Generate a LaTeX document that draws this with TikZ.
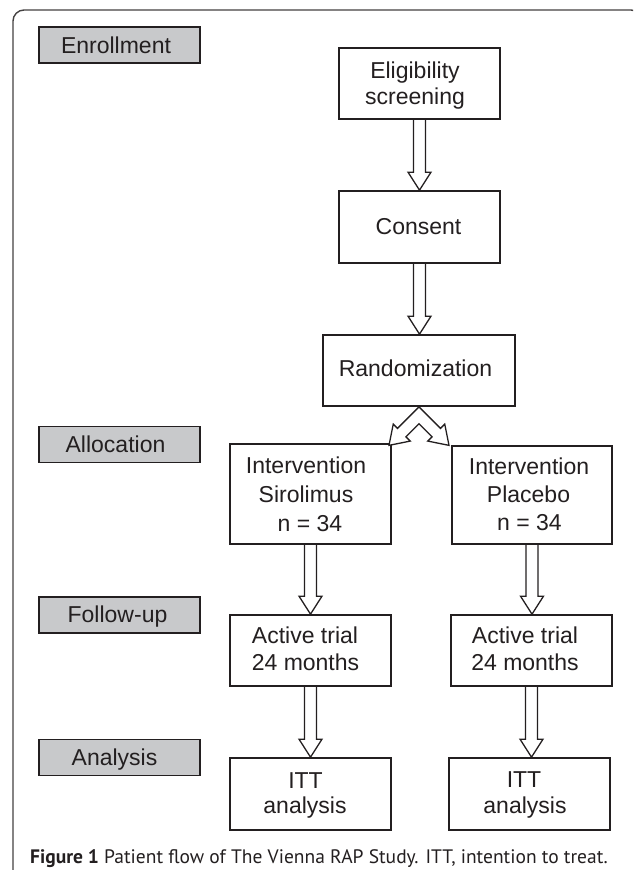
\documentclass[tikz,border=0pt]{standalone}
\usepackage{fontspec}
\setmainfont{Liberation Sans}
\newfontfamily\capfont{PT Sans}
\usetikzlibrary{calc}
\definecolor{ink}{RGB}{35,31,32}
\definecolor{lblgray}{RGB}{200,201,203}
\tikzset{
  box/.style={draw=ink, line width=1.7pt, fill=white, inner sep=0pt, rectangle},
  lbl/.style={draw=ink, line width=1.7pt, fill=lblgray, minimum width=161pt, minimum height=36pt, inner sep=0pt},
  txt/.style={text=ink, font=\fontsize{23}{26.5}\selectfont, inner sep=0pt, anchor=base},
  harrowline/.style={draw=ink, line width=1.3pt, line join=miter},
  frameline/.style={draw=ink!85, line width=1.4pt, rounded corners=11pt},
}
\newcommand{\harrow}[2]{%
  \draw[harrowline] let \p1=(#1.south), \p2=(#2.north) in
    (\x1-6pt,\y1) -- (\x1-6pt,\y2+18pt) -- (\x1-11.5pt,\y2+18pt) -- (\x1,\y2)
    -- (\x1+11.5pt,\y2+18pt) -- (\x1+6pt,\y2+18pt) -- (\x1+6pt,\y1);}
\begin{document}
\begin{tikzpicture}[x=1pt,y=-1pt]
\useasboundingbox (0,0) rectangle (633,870);
\begin{scope}
\clip (0,0) rectangle (633,870);
\draw[frameline] (13,880) -- (13,10) -- (642,10) -- (642,880);
\end{scope}

% phase labels
\node[lbl] (enr) at (119.5,45) {};
\node[txt] (enrt) at (116,53) {Enrollment};
\node[lbl] (alloc) at (119.5,444.5) {};
\node[txt] (alloct) at (115.5,452) {Allocation};
\node[lbl] (fol) at (119.5,615) {};
\node[txt] (folt) at (117.5,622) {Follow-up};
\node[lbl] (ana) at (119.5,757.5) {};
\node[txt] (anat) at (114.5,765) {Analysis};

% boxes
\node[box, minimum width=161pt, minimum height=71pt] (elig) at (419.5,83.5) {};
\node[txt] (elig1) at (415,78) {Eligibility};
\node[txt] (elig2) at (415,104) {screening};

\node[box, minimum width=161pt, minimum height=72pt] (cons) at (419.5,227) {};
\node[txt] (const) at (418.5,234) {Consent};

\node[box, minimum width=192pt, minimum height=71pt] (rand) at (419,370.5) {};
\node[txt] (randt) at (415.5,376.5) {Randomization};

\node[box, minimum width=161pt, minimum height=100pt] (siro) at (310.5,494) {};
\node[txt] (siro1) at (306,473) {Intervention};
\node[txt] (siro2) at (306,502) {Sirolimus};
\node[txt] (siro3) at (310,531.5) {n = 34};

\node[box, minimum width=160pt, minimum height=98pt] (plac) at (532,495) {};
\node[txt] (plac1) at (529,474) {Intervention};
\node[txt] (plac2) at (528.5,502) {Placebo};
\node[txt] (plac3) at (529.5,530) {n = 34};

\node[box, minimum width=161pt, minimum height=71pt] (actl) at (310.5,650.5) {};
\node[txt] (actl1) at (305,643) {Active trial};
\node[txt] (actl2) at (305.5,670) {24 months};

\node[box, minimum width=161pt, minimum height=71pt] (actr) at (531.5,650.5) {};
\node[txt] (actr1) at (525,643) {Active trial};
\node[txt] (actr2) at (525,670) {24 months};

\node[box, minimum width=161pt, minimum height=72pt] (ittl) at (310.5,794) {};
\node[txt] (ittl1) at (305.5,788) {ITT};
\node[txt] (ittl2) at (305,813) {analysis};

\node[box, minimum width=161pt, minimum height=72pt] (ittr) at (529.5,794) {};
\node[txt] (ittr1) at (524,787.5) {ITT};
\node[txt] (ittr2) at (525,813) {analysis};

% hollow arrows
\harrow{elig}{cons}
\harrow{cons}{rand}
\harrow{siro}{actl}
\harrow{plac}{actr}
\harrow{actl}{ittl}
\harrow{actr}{ittr}

% fork arrow from randomization
\draw[harrowline, fill=white]
  ($(rand.south)+(0,16.96)$) -- ($(rand.south)+(-13.02,29.98)$) -- ($(rand.south)+(-8.77,34.23)$)
  -- ($(rand.south)+(-30,38.5)$) -- ($(rand.south)+(-25.74,17.26)$) -- ($(rand.south)+(-21.5,21.5)$)
  -- (rand.south) -- ($(rand.south)+(21.5,21.5)$) -- ($(rand.south)+(25.74,17.26)$)
  -- ($(rand.south)+(30,38.5)$) -- ($(rand.south)+(8.77,34.23)$) -- ($(rand.south)+(13.02,29.98)$)
  -- cycle;

% caption
\node[anchor=base west, inner sep=0pt, text=ink, font=\capfont\fontsize{19.5}{22}\selectfont] (cap) at (30,863)
  {\textbf{Figure 1} Patient flow of The Vienna RAP Study. ITT, intention to treat.};
\end{tikzpicture}
\end{document}
